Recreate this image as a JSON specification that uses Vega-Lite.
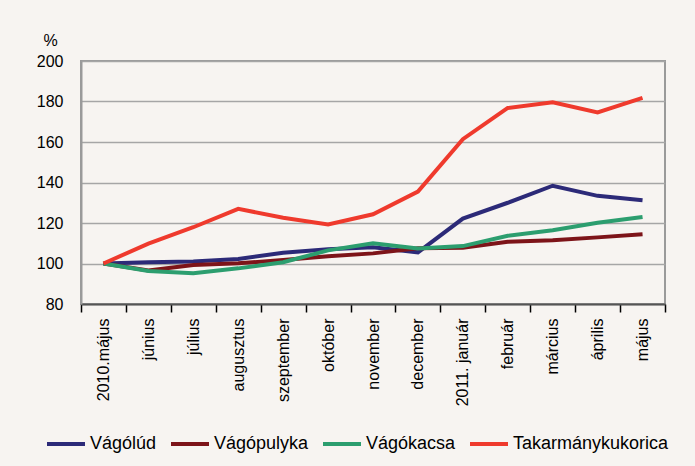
{
  "$schema": "https://vega.github.io/schema/vega-lite/v6.json",
  "width": 584,
  "height": 243,
  "autosize": {"type": "none"},
  "padding": {"left": 81, "top": 61, "right": 30, "bottom": 162},
  "background": "#f7f4f1",
  "config": {
    "font": "Liberation Sans",
    "view": {"stroke": "#9a9a9a", "strokeWidth": 2, "fill": "#f7f4f1"}
  },
  "data": {
    "values": [
      {"ho": "2010.május", "i": 0, "s": "Vágólúd", "v": 100},
      {"ho": "június", "i": 1, "s": "Vágólúd", "v": 100.6},
      {"ho": "július", "i": 2, "s": "Vágólúd", "v": 101},
      {"ho": "augusztus", "i": 3, "s": "Vágólúd", "v": 102.2},
      {"ho": "szeptember", "i": 4, "s": "Vágólúd", "v": 105.3},
      {"ho": "október", "i": 5, "s": "Vágólúd", "v": 107},
      {"ho": "november", "i": 6, "s": "Vágólúd", "v": 108},
      {"ho": "december", "i": 7, "s": "Vágólúd", "v": 105.5},
      {"ho": "2011. január", "i": 8, "s": "Vágólúd", "v": 122.2},
      {"ho": "február", "i": 9, "s": "Vágólúd", "v": 130},
      {"ho": "március", "i": 10, "s": "Vágólúd", "v": 138.4},
      {"ho": "április", "i": 11, "s": "Vágólúd", "v": 133.4},
      {"ho": "május", "i": 12, "s": "Vágólúd", "v": 131.2},

      {"ho": "2010.május", "i": 0, "s": "Vágópulyka", "v": 100},
      {"ho": "június", "i": 1, "s": "Vágópulyka", "v": 96.5},
      {"ho": "július", "i": 2, "s": "Vágópulyka", "v": 99.2},
      {"ho": "augusztus", "i": 3, "s": "Vágópulyka", "v": 100.1},
      {"ho": "szeptember", "i": 4, "s": "Vágópulyka", "v": 101.7},
      {"ho": "október", "i": 5, "s": "Vágópulyka", "v": 103.6},
      {"ho": "november", "i": 6, "s": "Vágópulyka", "v": 105},
      {"ho": "december", "i": 7, "s": "Vágópulyka", "v": 107.5},
      {"ho": "2011. január", "i": 8, "s": "Vágópulyka", "v": 107.8},
      {"ho": "február", "i": 9, "s": "Vágópulyka", "v": 110.7},
      {"ho": "március", "i": 10, "s": "Vágópulyka", "v": 111.5},
      {"ho": "április", "i": 11, "s": "Vágópulyka", "v": 112.9},
      {"ho": "május", "i": 12, "s": "Vágópulyka", "v": 114.4},

      {"ho": "2010.május", "i": 0, "s": "Vágókacsa", "v": 100},
      {"ho": "június", "i": 1, "s": "Vágókacsa", "v": 96.3},
      {"ho": "július", "i": 2, "s": "Vágókacsa", "v": 95.2},
      {"ho": "augusztus", "i": 3, "s": "Vágókacsa", "v": 97.6},
      {"ho": "szeptember", "i": 4, "s": "Vágókacsa", "v": 100.6},
      {"ho": "október", "i": 5, "s": "Vágókacsa", "v": 106.5},
      {"ho": "november", "i": 6, "s": "Vágókacsa", "v": 110},
      {"ho": "december", "i": 7, "s": "Vágókacsa", "v": 107.4},
      {"ho": "2011. január", "i": 8, "s": "Vágókacsa", "v": 108.6},
      {"ho": "február", "i": 9, "s": "Vágókacsa", "v": 113.7},
      {"ho": "március", "i": 10, "s": "Vágókacsa", "v": 116.4},
      {"ho": "április", "i": 11, "s": "Vágókacsa", "v": 120.1},
      {"ho": "május", "i": 12, "s": "Vágókacsa", "v": 123},

      {"ho": "2010.május", "i": 0, "s": "Takarmánykukorica", "v": 100},
      {"ho": "június", "i": 1, "s": "Takarmánykukorica", "v": 109.8},
      {"ho": "július", "i": 2, "s": "Takarmánykukorica", "v": 117.9},
      {"ho": "augusztus", "i": 3, "s": "Takarmánykukorica", "v": 127},
      {"ho": "szeptember", "i": 4, "s": "Takarmánykukorica", "v": 122.6},
      {"ho": "október", "i": 5, "s": "Takarmánykukorica", "v": 119.3},
      {"ho": "november", "i": 6, "s": "Takarmánykukorica", "v": 124.3},
      {"ho": "december", "i": 7, "s": "Takarmánykukorica", "v": 135.5},
      {"ho": "2011. január", "i": 8, "s": "Takarmánykukorica", "v": 161.4},
      {"ho": "február", "i": 9, "s": "Takarmánykukorica", "v": 176.8},
      {"ho": "március", "i": 10, "s": "Takarmánykukorica", "v": 179.6},
      {"ho": "április", "i": 11, "s": "Takarmánykukorica", "v": 174.6},
      {"ho": "május", "i": 12, "s": "Takarmánykukorica", "v": 181.8}
    ]
  },
  "mark": {"type": "line", "strokeWidth": 4, "strokeJoin": "miter"},
  "encoding": {
    "x": {
      "field": "ho",
      "type": "nominal",
      "sort": {"field": "i"},
      "scale": {"paddingInner": 0, "paddingOuter": 0},
      "axis": {
        "title": null,
        "labelAngle": -90,
        "labelAlign": "right",
        "labelBaseline": "middle",
        "labelFontSize": 16,
        "labelColor": "#000000",
        "labelPadding": 6,
        "tickBand": "extent",
        "tickSize": 8,
        "tickColor": "#000000",
        "tickWidth": 1.5,
        "domainColor": "#555555",
        "domainWidth": 2,
        "grid": false
      }
    },
    "y": {
      "field": "v",
      "type": "quantitative",
      "scale": {"domain": [80, 200], "nice": false, "zero": false},
      "axis": {
        "values": [80, 100, 120, 140, 160, 180, 200],
        "title": "%",
        "titleAngle": 0,
        "titleFontSize": 16,
        "titleFontWeight": "normal",
        "titleColor": "#000000",
        "titleX": -31,
        "titleY": -13,
        "titleAlign": "center",
        "titleBaseline": "bottom",
        "labelFontSize": 16,
        "labelColor": "#000000",
        "labelPadding": 18,
        "ticks": false,
        "domainColor": "#9a9a9a",
        "domainWidth": 2,
        "gridColor": "#a6a6a6",
        "gridWidth": 1.5
      }
    },
    "color": {
      "field": "s",
      "type": "nominal",
      "sort": ["Vágólúd", "Vágópulyka", "Vágókacsa", "Takarmánykukorica"],
      "scale": {
        "domain": ["Vágólúd", "Vágópulyka", "Vágókacsa", "Takarmánykukorica"],
        "range": ["#2c2a78", "#7d1419", "#2c9e6f", "#ef3a2d"]
      },
      "legend": {
        "title": null,
        "orient": "none",
        "legendX": -36,
        "legendY": 362,
        "direction": "horizontal",
        "columns": 4,
        "symbolType": "stroke",
        "symbolSize": 1444,
        "symbolStrokeWidth": 4,
        "labelFontSize": 18,
        "labelColor": "#000000",
        "labelOffset": 3,
        "labelLimit": 200,
        "columnPadding": 6
      }
    }
  }
}
